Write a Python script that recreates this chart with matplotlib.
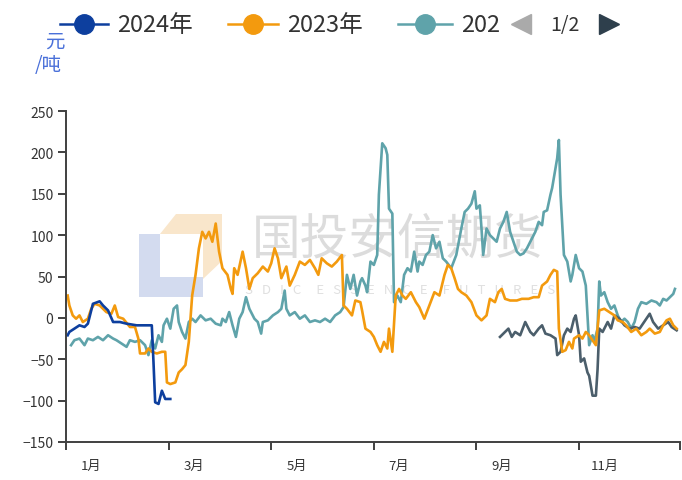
import matplotlib
matplotlib.use("Agg")
import matplotlib.pyplot as plt
from matplotlib.lines import Line2D
from matplotlib.patches import Polygon

plt.rcParams['font.family'] = ['Noto Sans CJK SC', 'DejaVu Sans']

# day of year, value (元/吨)
s2024 = [(1, -21), (2, -17), (5, -13), (8, -9), (11, -11), (13, -7), (16, 17), (20, 20), (22, 15),
         (25, 9), (28, -5), (32, -5), (36, -7), (42, -9), (51, -9), (52, -53), (53, -102), (55, -104),
         (57, -88), (59, -98), (62, -98)]

s2023 = [(1, 27), (2, 15), (4, 3), (6, -1), (8, 3), (10, -5), (13, -1), (15, 11), (17, 17), (20, 15),
         (24, 7), (27, 5), (29, 15), (31, 1), (34, -1), (38, -11), (41, -11), (43, -25), (44, -43),
         (47, -43), (49, -37), (51, -41), (54, -43), (57, -41), (59, -41), (60, -78), (62, -80),
         (65, -78), (67, -66), (69, -62), (71, -57), (73, -29), (75, 27), (77, 52), (79, 84),
         (81, 104), (83, 96), (85, 104), (87, 92), (89, 114), (91, 80), (93, 60), (96, 52), (98, 35),
         (99, 29), (100, 60), (102, 52), (105, 80), (107, 60), (109, 35), (111, 48), (114, 54),
         (117, 62), (120, 56), (122, 66), (124, 84), (126, 72), (128, 48), (131, 62), (133, 39),
         (136, 52), (139, 68), (142, 64), (145, 70), (148, 60), (150, 52), (152, 72), (155, 66),
         (158, 62), (161, 68), (164, 76), (165, 15), (167, 11), (170, 3), (172, 21), (175, 19),
         (176, 9), (178, -13), (181, -17), (183, -23), (185, -33), (187, -41), (189, -29), (191, -37),
         (192, -13), (194, -41), (196, 27), (198, 35), (200, 27), (202, 23), (205, 31), (208, 19),
         (210, 13), (213, -1), (216, 15), (219, 31), (222, 27), (225, 52), (227, 64), (229, 60),
         (231, 48), (233, 35), (235, 31), (238, 27), (241, 19), (244, 3), (247, -3), (250, 3),
         (252, 23), (255, 19), (257, 31), (259, 35), (261, 23), (264, 21), (268, 21), (271, 23),
         (275, 23), (278, 25), (281, 25), (283, 39), (286, 44), (288, 52), (290, 58), (292, 56),
         (293, -13), (295, -41), (297, -39), (299, -29), (301, -37), (302, -25), (305, -21),
         (307, -25), (309, -17), (311, -21), (313, -27), (315, -33), (317, 9), (320, 11), (323, 7),
         (326, 3), (328, -3), (331, -5), (333, -9), (336, -17), (339, -13), (342, -21), (345, -17),
         (347, -13), (350, -19), (353, -17), (355, -9), (357, -3), (359, -1), (361, -9), (363, -13)]

s2022 = [(3, -33), (5, -27), (8, -25), (11, -33), (13, -25), (16, -27), (19, -23), (22, -27),
         (25, -21), (28, -25), (30, -27), (33, -31), (36, -35), (38, -27), (41, -29), (44, -27),
         (47, -33), (49, -45), (51, -27), (53, -37), (55, -21), (57, -29), (58, -9), (60, -1),
         (62, -13), (64, 11), (66, 15), (67, -5), (69, -17), (71, -25), (73, -5), (75, -1), (77, -5),
         (80, 3), (83, -3), (86, -1), (89, -7), (92, -9), (93, -1), (95, -5), (97, 7), (99, -9),
         (101, -23), (103, -1), (105, 7), (107, 25), (109, 11), (112, -1), (114, -5), (116, -19),
         (117, -5), (120, -3), (123, 3), (126, 7), (128, 11), (130, 33), (131, 11), (133, 3),
         (136, 7), (139, -1), (142, 3), (145, -5), (148, -3), (151, -5), (154, -1), (157, -5),
         (160, 3), (163, 7), (165, 13), (167, 52), (169, 35), (171, 52), (173, 27), (175, 44),
         (176, 48), (178, 39), (179, 31), (181, 68), (183, 64), (185, 76), (186, 149), (188, 211),
         (190, 205), (191, 197), (192, 132), (194, 126), (195, 19), (197, 27), (199, 19), (201, 52),
         (203, 60), (205, 56), (207, 80), (209, 56), (210, 68), (212, 64), (214, 76), (216, 80),
         (218, 100), (220, 84), (222, 92), (224, 72), (226, 68), (229, 60), (232, 76), (235, 108),
         (237, 128), (239, 132), (241, 138), (243, 153), (244, 132), (246, 136), (247, 108),
         (248, 76), (250, 108), (252, 100), (254, 96), (256, 92), (258, 108), (260, 116), (262, 128),
         (264, 104), (266, 92), (268, 80), (270, 76), (272, 78), (274, 84), (276, 92), (279, 104),
         (281, 116), (283, 112), (284, 128), (286, 130), (288, 149), (289, 157), (292, 193),
         (293, 215), (294, 149), (296, 76), (298, 68), (300, 44), (301, 52), (303, 76), (305, 60),
         (307, 56), (309, 39), (311, -33), (313, -21), (314, -29), (316, -13), (317, 44), (318, 27),
         (320, 31), (322, 19), (324, 11), (326, 15), (328, 3), (330, -5), (332, -1), (334, -5),
         (336, -13), (338, -5), (340, 11), (342, 19), (345, 17), (348, 21), (351, 19), (353, 15),
         (355, 23), (357, 21), (359, 25), (361, 29), (362, 35)]

# series on legend page 2
s2021 = [(258, -23), (261, -17), (263, -13), (265, -23), (267, -17), (270, -21), (273, -5),
         (276, -17), (278, -21), (281, -13), (283, -9), (285, -19), (288, -21), (291, -25),
         (292, -45), (294, -41), (296, -21), (298, -13), (300, -17), (302, -1), (303, 3), (305, -21),
         (306, -53), (308, -49), (310, -66), (311, -70), (313, -94), (315, -94), (316, -62),
         (317, -13), (319, -17), (322, -5), (324, -13), (326, 3), (329, -1), (332, -9), (335, -13),
         (338, -11), (341, -13), (345, -1), (347, 5), (349, -5), (352, -13), (355, -9), (358, -5),
         (360, -11), (363, -15)]

month_ticks = [0, 61, 122, 183, 244, 305, 365]
month_labels = ['1月', '3月', '5月', '7月', '9月', '11月']
yticks = [-150, -100, -50, 0, 50, 100, 150, 200, 250]

c2024 = '#0d3f9e'
c2023 = '#f39a0e'
c2022 = '#5fa3aa'
c2021 = '#4b5e6b'
axis_c = '#404040'

W, H = 682, 481
fig = plt.figure(figsize=(W / 100, H / 100), dpi=100)


def fx(px):
    return px / W


def fy(py):
    return 1 - py / H


ax = fig.add_axes([fx(66), fy(443), fx(680) - fx(66), fy(112) - fy(443)])
ax.set_facecolor('none')

# watermark
fig.patches.append(Polygon([(fx(139), fy(235)), (fx(160), fy(235)), (fx(160), fy(278)), (fx(203), fy(278)),
                            (fx(203), fy(298)), (fx(139), fy(298))], closed=True, transform=fig.transFigure,
                           facecolor='#d3dbef', edgecolor='none', zorder=-2))
fig.patches.append(Polygon([(fx(160), fy(235)), (fx(176), fy(215)), (fx(222), fy(215)), (fx(222), fy(262)),
                            (fx(203), fy(280)), (fx(203), fy(235))], closed=True, transform=fig.transFigure,
                           facecolor='#f9e6cb', edgecolor='none', zorder=-2))
fig.text(fx(398), fy(240), '国投安信期货', fontsize=35, color='#dcdcdc', ha='center', va='center', zorder=-2)
fig.text(fx(400), fy(290), 'S   D   I   C     E   S   S   E   N   C   E     F   U   T   U   R   E   S',
         fontsize=9.5, color='#e0e0e0', ha='center', va='center', zorder=-2)

for data, c in [(s2022, c2022), (s2021, c2021), (s2023, c2023), (s2024, c2024)]:
    days, vals = zip(*data)
    ax.plot(days, vals, color=c, lw=1.9, solid_joinstyle='round')

ax.set_xlim(0, 365)
ax.set_ylim(-150, 250)
ax.set_yticks(yticks)
ax.set_xticks(month_ticks)
ax.set_xticklabels([])
ax.set_xticks([t + 15 for t in month_ticks[:-1]], minor=True)
ax.set_xticklabels(month_labels, minor=True)
ax.tick_params(axis='x', which='minor', length=0, pad=12, labelsize=9.5, labelcolor='#333333')
ax.tick_params(axis='x', which='major', length=6, width=1.4, color=axis_c)
ax.tick_params(axis='y', length=6, width=1.4, color=axis_c, labelsize=10, labelcolor='#333333', pad=3)
for s in ['top', 'right']:
    ax.spines[s].set_visible(False)
for s in ['left', 'bottom']:
    ax.spines[s].set_color(axis_c)
    ax.spines[s].set_linewidth(1.4)

# unit label
fig.text(fx(55), fy(42), '元', fontsize=14, color='#4a70d9', ha='center', va='center')
fig.text(fx(48), fy(66), '/吨', fontsize=14, color='#4a70d9', ha='center', va='center')

# legend
ly = fy(25)
for x0, x1, c, label in [(60, 108, c2024, '2024年'), (228, 278, c2023, '2023年'), (398, 452, c2022, '202')]:
    fig.add_artist(Line2D([fx(x0), fx(x1)], [ly, ly], transform=fig.transFigure, color=c, lw=1.8))
    fig.add_artist(Line2D([fx((x0 + x1) / 2)], [ly], transform=fig.transFigure, color=c, marker='o',
                          markersize=14, lw=0))
    fig.text(fx(x1 + 9), ly, label, fontsize=17, color='#333333', ha='left', va='center')
fig.add_artist(Line2D([fx(521)], [ly], transform=fig.transFigure, color='#aaaaaa', marker='<',
                      markersize=14, lw=0))
fig.text(fx(565), ly, '1/2', fontsize=14, color='#333333', ha='center', va='center')
fig.add_artist(Line2D([fx(609)], [ly], transform=fig.transFigure, color='#2e3f4c', marker='>',
                      markersize=14, lw=0))

fig.savefig('out.png', dpi=100)
